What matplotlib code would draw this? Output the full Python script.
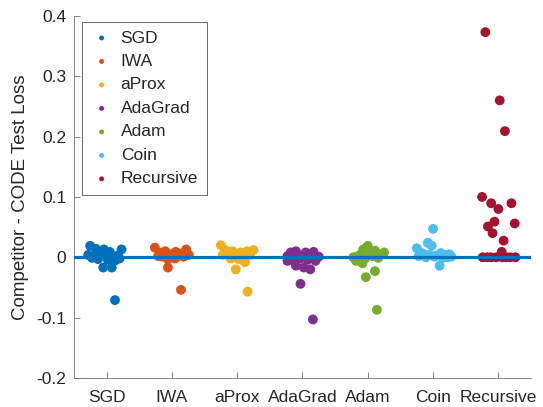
import matplotlib
matplotlib.use("Agg")
import matplotlib.pyplot as plt
import numpy as np

plt.rcParams['font.family'] = ['Liberation Sans', 'DejaVu Sans']

methods = ["SGD", "IWA", "aProx", "AdaGrad", "Adam", "Coin", "Recursive"]
colors = ["#0072BD", "#D95319", "#EDB120", "#7E2F8E", "#77AC30", "#4DBEEE", "#A2142F"]

sgd_vals = [0.019, 0.014, 0.013, 0.009, 0.013, 0.004, 0.002, 0.006, 0.003, 0.001,
            0.003, -0.002, -0.003, -0.004, -0.005, -0.017, -0.017, -0.071, -0.001]
sgd_jit = [-0.25, -0.16, -0.04, 0.05, 0.23, -0.28, -0.18, -0.10, 0.0, 0.10,
           0.17, 0.20, -0.13, 0.02, 0.14, -0.05, 0.08, 0.13, -0.22]

iwa_vals = [0.016, 0.008, 0.010, 0.005, 0.009, 0.006, 0.013, 0.004, 0.002, 0.001,
            0.000, 0.002, 0.001, -0.003, -0.002, -0.017, -0.054]
iwa_jit = [-0.26, -0.18, -0.10, -0.03, 0.06, 0.14, 0.22, 0.26, -0.21, -0.14,
           0.0, 0.09, 0.18, -0.06, 0.05, -0.06, 0.14]

aprox_vals = [0.020, 0.012, 0.010, 0.008, 0.010, 0.012, 0.004, 0.005, 0.003, 0.002,
              0.004, -0.002, -0.003, -0.008, -0.020, -0.057]
aprox_jit = [-0.25, -0.18, -0.07, 0.05, 0.15, 0.25, -0.22, -0.13, 0.0, 0.10,
             0.20, -0.10, 0.02, 0.12, -0.02, 0.16]

adagrad_vals = [0.002, 0.008, 0.010, 0.004, 0.008, 0.005, 0.009, 0.001, -0.006, -0.004,
                -0.002, -0.004, -0.006, -0.014, -0.017, -0.020, -0.044, -0.103]
adagrad_jit = [-0.23, -0.18, -0.10, -0.06, 0.05, 0.12, 0.17, 0.25, -0.23, -0.15,
               -0.03, 0.08, 0.20, -0.10, 0.02, 0.12, -0.03, 0.16]

adam_vals = [0.000, -0.006, 0.004, 0.013, 0.019, 0.007, 0.011, 0.004, 0.008, 0.001,
             -0.002, 0.002, -0.001, -0.010, -0.023, -0.033, -0.087]
adam_jit = [-0.22, -0.18, -0.12, -0.07, 0.0, 0.05, 0.11, 0.19, 0.25, -0.16,
            -0.04, 0.07, 0.16, -0.08, 0.11, -0.03, 0.14]

coin_vals = [0.047, 0.024, 0.019, 0.015, 0.008, 0.005, 0.004, 0.003, 0.007, 0.004,
             0.005, 0.001, 0.002, 0.000, 0.001, -0.001, 0.000, -0.014]
coin_jit = [0.0, -0.08, -0.02, -0.25, -0.19, -0.13, -0.05, 0.05, 0.12, 0.18,
            0.25, 0.28, -0.22, -0.11, 0.02, 0.15, 0.22, 0.10]

rec_vals = [0.373, 0.260, 0.209, 0.100, 0.0895, 0.080, 0.0895, 0.059, 0.051, 0.056,
            0.040, 0.0276, 0.009, 0.0, 0.0, 0.0, 0.0, 0.0, 0.0, 0.0, 0.0]
rec_jit = [-0.20, 0.02, 0.10, -0.25, -0.11, 0.0, 0.20, -0.06, -0.16, 0.25,
           -0.09, 0.08, 0.05, -0.24, -0.17, -0.11, -0.03, 0.06, 0.12, 0.18, 0.26]

all_vals = [sgd_vals, iwa_vals, aprox_vals, adagrad_vals, adam_vals, coin_vals, rec_vals]
all_jit = [sgd_jit, iwa_jit, aprox_jit, adagrad_jit, adam_jit, coin_jit, rec_jit]

yticks = [-0.2, -0.1, 0, 0.1, 0.2, 0.3, 0.4]
ytick_labels = ["-0.2", "-0.1", "0", "0.1", "0.2", "0.3", "0.4"]

fig = plt.figure(figsize=(5.43, 4.07), dpi=100)
ax = fig.add_axes([0.136, 0.0713, 0.842, 0.8897])

for i, (name, c, vals, jit) in enumerate(zip(methods, colors, all_vals, all_jit)):
    x = (i + 1) + np.array(jit)
    ax.scatter(x, vals, s=50, color=c, edgecolors='none', label=name, zorder=2)

ax.axhline(0, color="#0072BD", lw=2.3, zorder=3)

ax.set_xlim(0.5, 7.5)
ax.set_ylim(-0.2, 0.4)
ax.set_xticks(range(1, 8))
ax.set_xticklabels(methods, fontsize=12.5)
ax.set_yticks(yticks)
ax.set_yticklabels(ytick_labels, fontsize=12.5)
ax.set_ylabel("Competitor - CODE Test Loss", fontsize=13.5, color='#262626')
ax.yaxis.set_label_coords(-0.097, 0.5)

for s in ['top', 'right']:
    ax.spines[s].set_visible(False)
for s in ['left', 'bottom']:
    ax.spines[s].set_color('#707070')
    ax.spines[s].set_linewidth(0.6)
ax.tick_params(direction='in', length=4, width=0.6, color='#707070', labelcolor='#262626')
ax.tick_params(axis='x', pad=9.0)
ax.tick_params(axis='y', pad=5.5)

leg = ax.legend(loc='upper left', bbox_to_anchor=(0.017, 0.984), borderaxespad=0,
                fontsize=12.5, markerscale=0.5, frameon=True, fancybox=False,
                handletextpad=0.45, labelspacing=0.48, borderpad=0.5, handlelength=1.3)
leg.get_frame().set_edgecolor('#262626')
leg.get_frame().set_linewidth(0.6)
for t in leg.get_texts():
    t.set_color('#262626')

fig.savefig("out.png", dpi=100)
